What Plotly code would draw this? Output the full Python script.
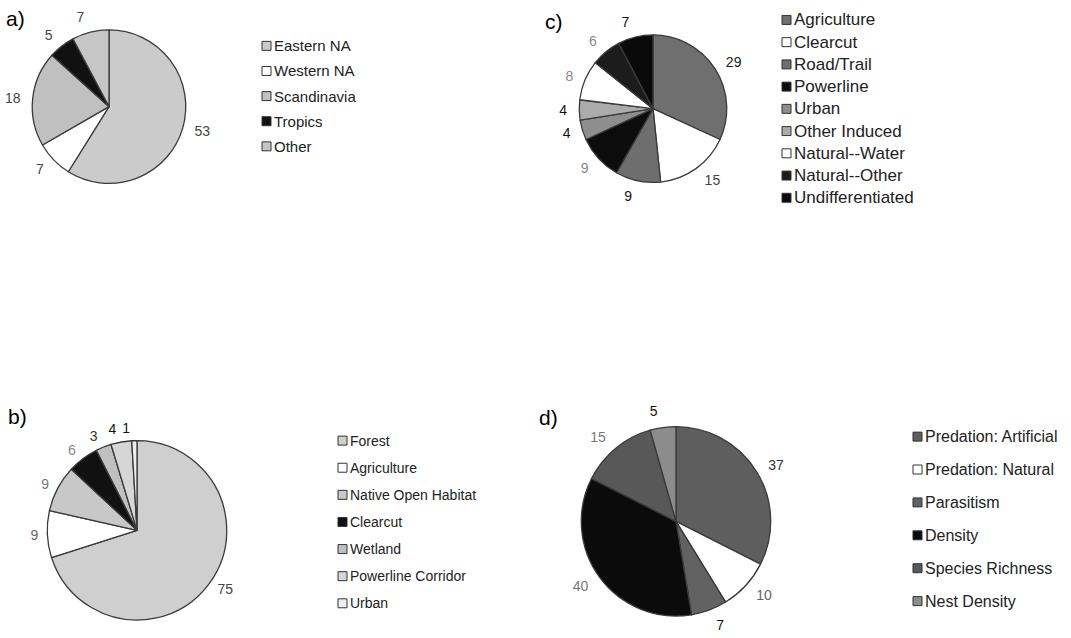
import plotly.graph_objects as go

W, H = 1071, 638
FONT = "Liberation Sans, Arial, sans-serif"

# ---------------- data ----------------
a_labels = ["Eastern NA", "Western NA", "Scandinavia", "Tropics", "Other"]
a_values = [53, 7, 18, 5, 7]
a_colors = ["#cbcbcb", "#ffffff", "#c0c0c0", "#111111", "#c6c6c6"]
a_textcolors = ["#444444", "#444444", "#444444", "#444444", "#444444"]

b_labels = ["Forest", "Agriculture", "Native Open Habitat", "Clearcut",
            "Wetland", "Powerline Corridor", "Urban"]
b_values = [75, 9, 9, 6, 3, 4, 1]
b_colors = ["#cfcfcf", "#ffffff", "#c8c8c8", "#111111", "#c0c0c0", "#d6d6d6", "#eeeeee"]
b_textcolors = ["#444444", "#666666", "#777777", "#888888", "#333333", "#111111", "#111111"]

c_labels = ["Agriculture", "Clearcut", "Road/Trail", "Powerline", "Urban",
            "Other Induced", "Natural--Water", "Natural--Other", "Undifferentiated"]
c_values = [29, 15, 9, 9, 4, 4, 8, 6, 7]
c_colors = ["#6f6f6f", "#ffffff", "#6e6e6e", "#0c0c0c", "#8e8e8e",
            "#ababab", "#ffffff", "#1c1c1c", "#0a0a0a"]
c_textcolors = ["#222222", "#444444", "#111111", "#888888", "#111111",
                "#111111", "#888888", "#888888", "#111111"]

d_labels = ["Predation: Artificial", "Predation: Natural", "Parasitism",
            "Density", "Species Richness", "Nest Density"]
d_values = [37, 10, 7, 40, 15, 5]
d_colors = ["#5e5e5e", "#ffffff", "#626262", "#0b0b0b", "#585858", "#8c8c8c"]
d_textcolors = ["#333333", "#666666", "#111111", "#777777", "#777777", "#111111"]

panel_letters = ["a)", "b)", "c)", "d)"]

# ---------------- figure ----------------
fig = go.Figure()


def pie_domain(cx, cy, r):
    return dict(x=[(cx - r) / W, (cx + r) / W],
                y=[1 - (cy + r) / H, 1 - (cy - r) / H])


def add_pie(labels, values, colors, textcolors, cx, cy, r, name,
            label_groups=None, label_gap=8):
    n = len(values)
    if label_groups is None:
        label_groups = [list(range(n))]
    # visible pie (slices + outlines)
    fig.add_trace(go.Pie(
        name=name, labels=labels, values=values, sort=False,
        direction="clockwise", rotation=0,
        marker=dict(colors=colors, line=dict(color="#3a3a3a", width=1.3)),
        textposition="none", domain=pie_domain(cx, cy, r),
        showlegend=False, hoverinfo="label+value",
    ))
    # value labels, carried by slightly larger transparent pies
    for group in label_groups:
        fig.add_trace(go.Pie(
            name=name, labels=labels, values=values, sort=False,
            direction="clockwise", rotation=0,
            marker=dict(colors=["rgba(0,0,0,0)"] * n,
                        line=dict(color="rgba(0,0,0,0)", width=0)),
            textinfo="value",
            textposition=["outside" if i in group else "none" for i in range(n)],
            textfont=dict(family=FONT, size=14, color=textcolors),
            domain=pie_domain(cx, cy, r + label_gap),
            showlegend=False, hoverinfo="skip",
        ))


def add_legend(labels, colors, x0, y0, dy, fs):
    for i, (lab, col) in enumerate(zip(labels, colors)):
        y = y0 + i * dy
        fig.add_shape(type="rect", xref="paper", yref="paper",
                      x0=x0 / W, x1=(x0 + 9) / W,
                      y0=1 - (y + 4.5) / H, y1=1 - (y - 4.5) / H,
                      fillcolor=col, line=dict(color="#333333", width=1))
        fig.add_annotation(xref="paper", yref="paper",
                           x=(x0 + 10) / W, y=1 - y / H, text=lab,
                           xanchor="left", yanchor="middle", showarrow=False,
                           font=dict(family=FONT, size=fs, color="#222222"))


add_pie(a_labels, a_values, a_colors, a_textcolors, 109, 107, 77, "a", label_gap=8)
add_pie(c_labels, c_values, c_colors, c_textcolors, 653, 109, 74, "c", label_gap=8)
add_pie(b_labels, b_values, b_colors, b_textcolors, 137, 532, 90, "b",
        label_groups=[[0, 1, 2, 3], [4], [5], [6]], label_gap=5)
add_pie(d_labels, d_values, d_colors, d_textcolors, 676, 523, 95, "d", label_gap=9)

add_legend(a_labels, a_colors, 262, 46, 25.2, 15)
add_legend(c_labels, c_colors, 782, 20, 22.3, 17)
add_legend(b_labels, b_colors, 338, 442, 27.2, 14)
add_legend(d_labels, d_colors, 913, 438, 33, 16)

letter_pos = [(4, 19), (6, 418), (543, 22), (537, 419)]
for txt, (x, y) in zip(panel_letters, letter_pos):
    fig.add_annotation(xref="paper", yref="paper", x=x / W, y=1 - y / H,
                       text=txt, xanchor="left", yanchor="middle",
                       showarrow=False, font=dict(family=FONT, size=21, color="#000000"))

fig.update_layout(
    width=W, height=H, margin=dict(l=0, r=0, t=0, b=0),
    paper_bgcolor="white", plot_bgcolor="white", showlegend=False,
)

fig.write_html("out.html", config={"displayModeBar": False},
               post_script="document.body.style.margin='0';")
